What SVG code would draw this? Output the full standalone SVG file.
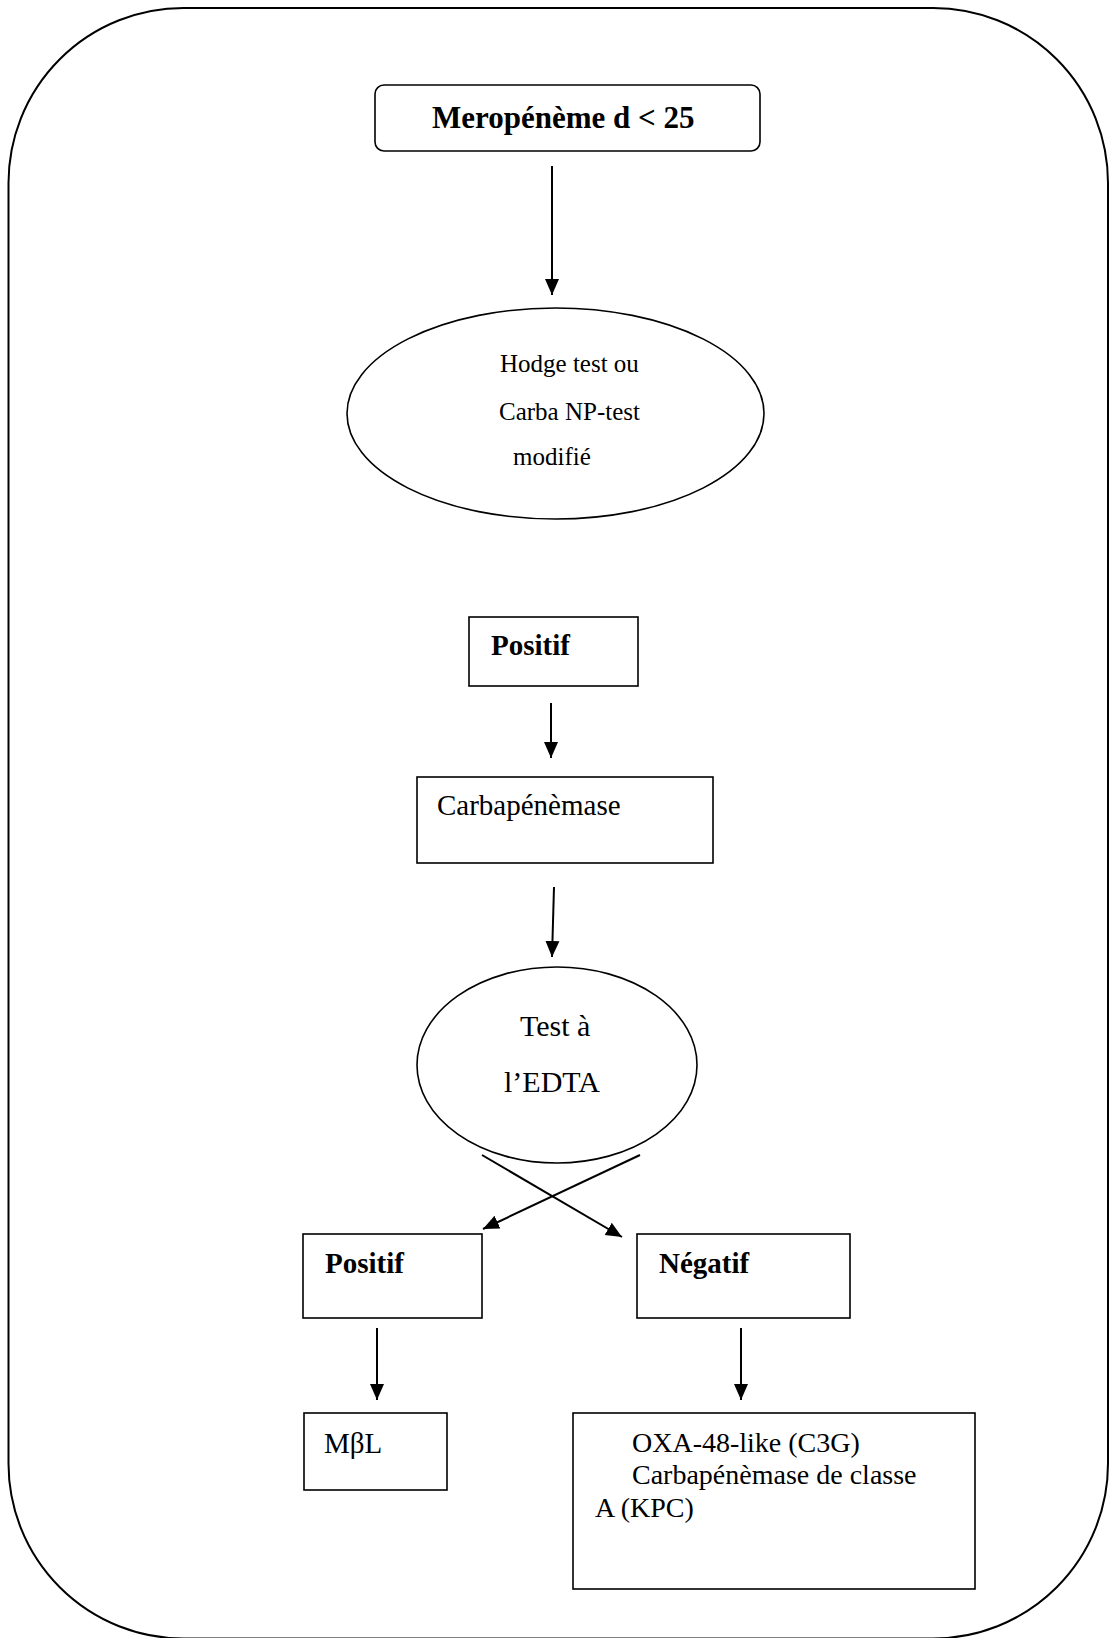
<svg xmlns="http://www.w3.org/2000/svg" width="1110" height="1638" viewBox="0 0 1110 1638">
<style>
.box{fill:#fff;stroke:#000;stroke-width:1.6}
.t{font-family:"Liberation Serif","Times New Roman",serif;fill:#000}
.b{font-weight:bold}
.c{stroke:#000;stroke-width:2;fill:none}
</style>
<defs>
<marker id="ah" markerUnits="userSpaceOnUse" markerWidth="16" markerHeight="16" viewBox="0 0 16 16" refX="16" refY="8" orient="auto">
<path d="M0,1 L16,8 L0,15 Z" fill="#000"/>
</marker>
</defs>
<rect x="8.5" y="8" width="1099.5" height="1630.5" rx="175" ry="175" fill="none" stroke="#000" stroke-width="2"/>
<g id="meropeneme">
<rect class="box" x="375" y="85" width="385" height="66" rx="9"/>
<text class="t b" x="432" y="128" font-size="31">Meropénème d &lt; 25</text>
</g>
<g id="hodge">
<ellipse class="box" cx="555.5" cy="413.5" rx="208.5" ry="105.5"/>
<text class="t" font-size="25"><tspan x="500" y="372">Hodge test ou</tspan><tspan x="499" y="420">Carba NP-test</tspan><tspan x="513" y="465">modifié</tspan></text>
</g>
<g id="positif1">
<rect class="box" x="469" y="617" width="169" height="69"/>
<text class="t b" x="491" y="655" font-size="29">Positif</text>
</g>
<g id="carbapenemase">
<rect class="box" x="417" y="777" width="296" height="86"/>
<text class="t" x="437" y="815" font-size="29">Carbapénèmase</text>
</g>
<g id="edta">
<ellipse class="box" cx="557" cy="1065" rx="140" ry="98"/>
<text class="t" font-size="30"><tspan x="520" y="1036">Test à</tspan><tspan x="504" y="1092">l’EDTA</tspan></text>
</g>
<g id="positif2">
<rect class="box" x="303" y="1234" width="179" height="84"/>
<text class="t b" x="325" y="1273" font-size="29">Positif</text>
</g>
<g id="negatif">
<rect class="box" x="637" y="1234" width="213" height="84"/>
<text class="t b" x="659" y="1273" font-size="29">Négatif</text>
</g>
<g id="mbl">
<rect class="box" x="304" y="1413" width="143" height="77"/>
<text class="t" x="324" y="1453" font-size="29">MβL</text>
</g>
<g id="oxa">
<rect class="box" x="573" y="1413" width="402" height="176"/>
<text class="t" font-size="28"><tspan x="632" y="1452">OXA-48-like (C3G)</tspan><tspan x="632" y="1484">Carbapénèmase de classe</tspan><tspan x="595" y="1517">A (KPC)</tspan></text>
</g>
<g id="connectors">
<line class="c" x1="552" y1="166" x2="552" y2="295" marker-end="url(#ah)"/>
<line class="c" x1="551" y1="703" x2="551" y2="758" marker-end="url(#ah)"/>
<line class="c" x1="554" y1="887" x2="552" y2="957" marker-end="url(#ah)"/>
<line class="c" x1="482" y1="1155" x2="622" y2="1237" marker-end="url(#ah)"/>
<line class="c" x1="640" y1="1155" x2="483" y2="1229" marker-end="url(#ah)"/>
<line class="c" x1="377" y1="1328" x2="377" y2="1400" marker-end="url(#ah)"/>
<line class="c" x1="741" y1="1328" x2="741" y2="1400" marker-end="url(#ah)"/>
</g>
</svg>
